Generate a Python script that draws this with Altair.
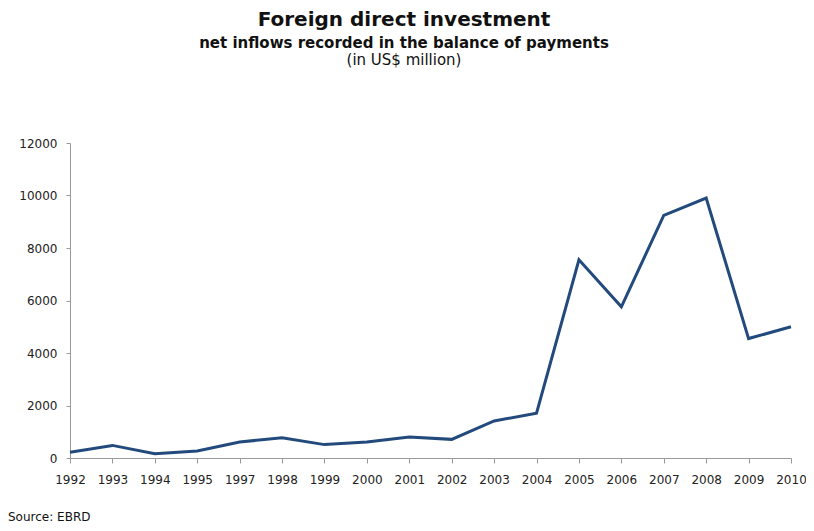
import altair as alt
import pandas as pd

years = ["1992", "1993", "1994", "1995", "1997", "1998", "1999", "2000", "2001",
         "2002", "2003", "2004", "2005", "2006", "2007", "2008", "2009", "2010"]
fdi = [220, 480, 160, 270, 610, 770, 510, 610, 800,
       710, 1410, 1710, 7550, 5760, 9240, 9900, 4550, 5000]

title_lines = ["Foreign direct investment",
               "net inflows recorded in the balance of payments",
               "(in US$ million)"]
source_text = ["Source: EBRD"]

df = pd.DataFrame({"year": years, "value": fdi})

FONT = "DejaVu Sans"

line = alt.Chart(df).mark_line(color="#234a7c", strokeWidth=3).encode(
    x=alt.X("year:O", sort=years, title=None,
            scale=alt.Scale(type="point", padding=0),
            axis=alt.Axis(labelAngle=0, labelFont=FONT, labelFontSize=12,
                          labelColor="#222222", tickSize=5, tickColor="#9a9a9a",
                          domainColor="#9a9a9a", labelPadding=11, grid=False)),
    y=alt.Y("value:Q", title=None,
            scale=alt.Scale(domain=[0, 12000], nice=False),
            axis=alt.Axis(values=[0, 2000, 4000, 6000, 8000, 10000, 12000],
                          labelFont=FONT, labelFontSize=12, labelColor="#222222",
                          tickSize=4, tickColor="#9a9a9a", domainColor="#9a9a9a",
                          labelPadding=9, grid=False, format="d")),
)

def text_layer(txt, x, y, size, weight, align="center"):
    return alt.Chart(pd.DataFrame({"t": [txt]})).mark_text(
        font=FONT, fontSize=size, fontWeight=weight, color="#111111",
        align=align, baseline="alphabetic"
    ).encode(text="t:N", x=alt.value(x), y=alt.value(y))

t1 = text_layer(title_lines[0], 334, -117, 20, "bold")
t2 = text_layer(title_lines[1], 334, -95, 15, "bold")
t3 = text_layer(title_lines[2], 334, -78, 15, "normal")
src = text_layer(source_text[0], -62, 378, 12, "normal", align="left")

chart = alt.layer(line, t1, t2, t3, src).properties(
    width=721, height=315,
    background="white",
    autosize=alt.AutoSizeParams(type="none"),
    padding={"left": 62, "top": 135, "right": 15, "bottom": 65},
).configure_view(stroke=None, strokeWidth=0)

chart.save("out.html", embed_options={"renderer": "svg", "actions": False})
